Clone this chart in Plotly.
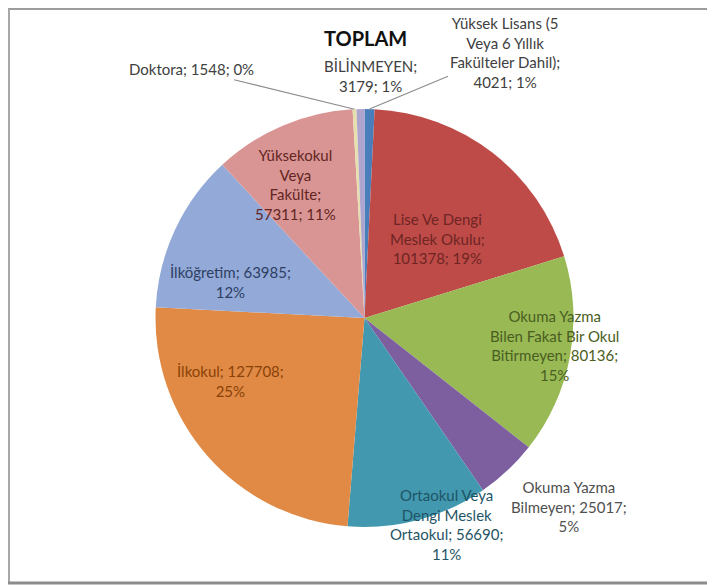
import math
import plotly.graph_objects as go

# ---------------- data ----------------
categories = [
    "Yüksek Lisans (5 Veya 6 Yıllık Fakülteler Dahil)",
    "Lise Ve Dengi Meslek Okulu",
    "Okuma Yazma Bilen Fakat Bir Okul Bitirmeyen",
    "Okuma Yazma Bilmeyen",
    "Ortaokul Veya Dengi Meslek Ortaokul",
    "İlkokul",
    "İlköğretim",
    "Yüksekokul Veya Fakülte",
    "Doktora",
    "BİLİNMEYEN",
]
values = [4021, 101378, 80136, 25017, 56690, 127708, 63985, 57311, 1548, 3179]
title_text = "TOPLAM"

# ---------------- style / layout ----------------
OFF = 8                      # page body margin
W, H = 715 - OFF, 585 - OFF  # figure size so that it fits the window
CX, CY, R = 364.5, 318.0, 209.0   # pie centre / radius in screen pixels

slice_colors = ["#4A7EBB", "#BE4B48", "#98B954", "#7D5FA0", "#4198AF",
                "#E08A45", "#93A9D8", "#D89594", "#E6DFAE", "#ADA4D0"]
label_colors = ["#404040", "#6E2523", "#4A5E22", "#505050", "#1F5566",
                "#8A4208", "#2E3F63", "#632523", "#404040", "#404040"]
# words per wrapped line (Excel wrapping)
label_wrap = [[3, 3, 2, 2], [3, 2, 2], [2, 4, 2, 1], [2, 2, 1], [2, 2, 2, 1],
              [2, 1], [2, 1], [1, 1, 1, 2], [3], [1, 2]]
# label centre offsets from pie centre, in pie radii (x right, y down)
label_offset = [(0.67, -1.27), (0.35, -0.38), (0.91, 0.13), (0.98, 0.90),
                (0.39, 0.99), (-0.64, 0.30), (-0.64, -0.17), (-0.33, -0.64),
                (-0.83, -1.19), (0.03, -1.16)]
leader = [True, False, False, False, False, False, False, False, True, False]
FONT = "Lato, Carlito, sans-serif"


def px(x):
    return (x - OFF) / W


def py(y):
    return 1 - (y - OFF) / H


total = sum(values)
fig = go.Figure()
fig.add_trace(go.Pie(
    labels=categories,
    values=values,
    sort=False,
    direction="clockwise",
    rotation=0,
    textinfo="none",
    hoverinfo="label+value+percent",
    marker=dict(colors=slice_colors, line=dict(width=0)),
    domain=dict(x=[px(CX - R), px(CX + R)], y=[py(CY + R), py(CY - R)]),
    showlegend=False,
))

annotations = []
cum = 0
for i, (name, v) in enumerate(zip(categories, values)):
    mid = (cum + v / 2) / total * 2 * math.pi
    cum += v
    pct = round(v / total * 100)
    words = f"{name}; {v}; {pct}%".split(" ")
    lines, k = [], 0
    for n in label_wrap[i]:
        lines.append(" ".join(words[k:k + n]))
        k += n
    text = "<br>".join(lines)
    lx = CX + label_offset[i][0] * R
    ly = CY + label_offset[i][1] * R
    a = dict(text=text, align="center", showarrow=False,
             xanchor="center", yanchor="middle",
             font=dict(family=FONT, size=15, color=label_colors[i]),
             xref="paper", yref="paper")
    if leader[i]:
        tx = CX + R * math.sin(mid)
        ty = CY - R * math.cos(mid)
        a.update(x=px(tx), y=py(ty), ax=lx - tx, ay=ly - ty,
                 axref="pixel", ayref="pixel", showarrow=True,
                 arrowhead=0, arrowwidth=1.2, arrowcolor="#8C8C8C",
                 standoff=0, startstandoff=0)
    else:
        a.update(x=px(lx), y=py(ly))
    annotations.append(a)

annotations.append(dict(text="<b>" + title_text + "</b>", x=px(365), y=py(38),
                        xref="paper", yref="paper", showarrow=False,
                        xanchor="center", yanchor="middle",
                        font=dict(family=FONT, size=20, color="#111111")))

shapes = [
    dict(type="line", xref="paper", yref="paper", x0=0, x1=1, y0=py(9), y1=py(9),
         line=dict(color="#9C9C9C", width=2)),
    dict(type="line", xref="paper", yref="paper", x0=px(9), x1=px(9), y0=py(9), y1=py(583),
         line=dict(color="#A8A8A8", width=2)),
    dict(type="line", xref="paper", yref="paper", x0=0, x1=1, y0=py(583), y1=py(583),
         line=dict(color="#8C8C8C", width=3)),
]

fig.update_layout(
    width=W, height=H,
    margin=dict(l=0, r=0, t=0, b=0),
    paper_bgcolor="white",
    plot_bgcolor="white",
    annotations=annotations,
    shapes=shapes,
)

fig.write_html("out.html")
